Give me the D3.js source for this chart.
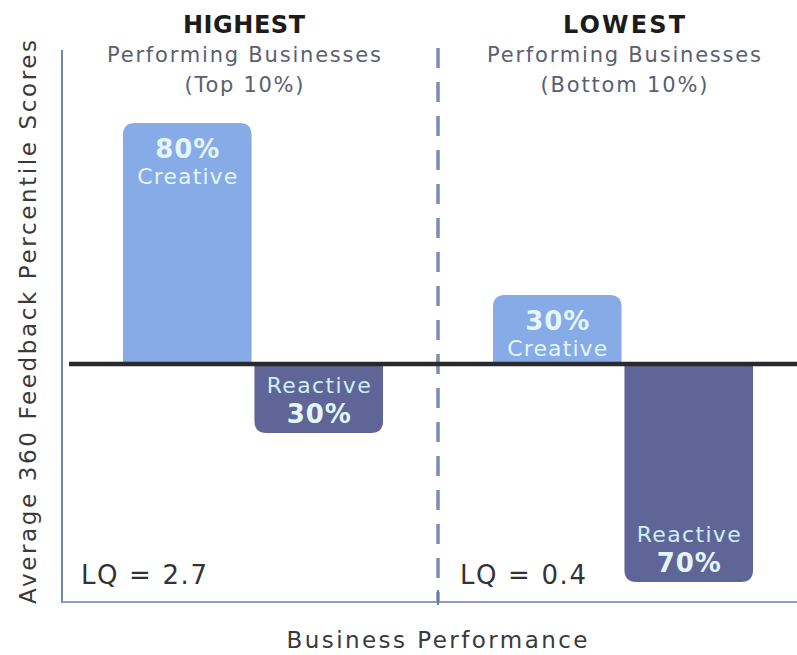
<!DOCTYPE html>
<html><head><meta charset="utf-8">
<script src="https://cdn.jsdelivr.net/npm/d3@7"></script>
<style>
body{margin:0;background:#fff;}
svg{display:block;}
text{font-family:"DejaVu Sans",Lato,sans-serif;}
</style></head>
<body>
<svg id="c" width="797" height="655"></svg>
<script>
const groups = ["HIGHEST", "LOWEST"];
const groupSub = ["Performing Businesses", "Performing Businesses"];
const groupRange = ["(Top 10%)", "(Bottom 10%)"];
const series = ["Creative", "Reactive"];
const creativeValues = [80, 30];
const reactiveValues = [30, 70];
const lqValues = ["LQ = 2.7", "LQ = 0.4"];
const xTitle = "Business Performance";
const yTitle = "Average 360 Feedback Percentile Scores";

const svg = d3.select("#c");
const W = 797, H = 655;
const baseY = 364, axisX = 62, axisBottom = 602, axisTop = 50;

const x = d3.scaleBand().domain(groups).range([68, 808]);
const inner = d3.scaleBand().domain(series).range([55, 315]).paddingInner(0.022);
// signed value: creative above the baseline, reactive below
const y = d3.scaleLinear().domain([-70, -30, 0, 30, 80]).range([582, 433, baseY, 295, 123]);

const colors = {Creative: "#86abe6", Reactive: "#5f6596"};

function fit(sel, len) {
  return sel.attr("textLength", len).attr("lengthAdjust", "spacing");
}

// axes
svg.append("line").attr("x1", axisX).attr("x2", axisX).attr("y1", axisTop).attr("y2", axisBottom + 1)
  .attr("stroke", "#7386ae").attr("stroke-width", 2);
svg.append("line").attr("x1", axisX).attr("x2", W).attr("y1", axisBottom).attr("y2", axisBottom)
  .attr("stroke", "#909fbe").attr("stroke-width", 2);

// divider
const divX = x("LOWEST");
svg.append("line").attr("x1", divX).attr("x2", divX).attr("y1", 48).attr("y2", axisBottom)
  .attr("stroke", "#7a8db9").attr("stroke-width", 3.5).attr("stroke-dasharray", "20,14");
svg.append("line").attr("x1", divX).attr("x2", divX).attr("y1", axisBottom - 12).attr("y2", axisBottom + 3)
  .attr("stroke", "#6b7ca4").attr("stroke-width", 2);

const bars = [];
groups.forEach((g, i) => {
  bars.push({g, s: "Creative", v: creativeValues[i]});
  bars.push({g, s: "Reactive", v: -reactiveValues[i]});
});

function barPath(x0, w, y0, y1, r) {
  const dir = y1 < y0 ? 1 : -1;
  const p = d3.path();
  p.moveTo(x0, y0);
  p.lineTo(x0, y1 + dir * r);
  p.quadraticCurveTo(x0, y1, x0 + r, y1);
  p.lineTo(x0 + w - r, y1);
  p.quadraticCurveTo(x0 + w, y1, x0 + w, y1 + dir * r);
  p.lineTo(x0 + w, y0);
  p.closePath();
  return p.toString();
}

svg.selectAll("path.bar").data(bars).join("path")
  .attr("class", "bar")
  .attr("fill", d => colors[d.s])
  .attr("d", d => barPath(x(d.g) + inner(d.s), inner.bandwidth(), y(0), y(d.v), 12));

// baseline
svg.append("line").attr("x1", 69).attr("x2", W).attr("y1", baseY).attr("y2", baseY)
  .attr("stroke", "#2a2a2e").attr("stroke-width", 4.5);

// bar labels
const lab = svg.append("g").attr("text-anchor", "middle").attr("fill", "#e3f6fb");
bars.forEach(d => {
  const cx = x(d.g) + inner(d.s) + inner.bandwidth() / 2;
  const pct = Math.abs(d.v) + "%";
  if (d.v > 0) {
    fit(lab.append("text").attr("x", cx).attr("y", y(d.v) + 35).attr("font-size", 26).attr("font-weight", 700).text(pct), 64);
    fit(lab.append("text").attr("x", cx).attr("y", y(d.v) + 61).attr("font-size", 22).text(d.s), 100);
  } else {
    fit(lab.append("text").attr("x", cx).attr("y", y(d.v) - 40).attr("font-size", 22).attr("fill", "#cdeff6").text(d.s), 104);
    fit(lab.append("text").attr("x", cx).attr("y", y(d.v) - 10).attr("font-size", 26).attr("font-weight", 700).text(pct), 64);
  }
});

// group titles
const titleShift = [-9, 1];
const rangeLen = [119, 167];
groups.forEach((g, i) => {
  const cx = x(g) + x.bandwidth() / 2 + titleShift[i];
  fit(svg.append("text").attr("x", cx).attr("y", 33).attr("text-anchor", "middle")
    .attr("font-size", 24).attr("font-weight", 700).attr("fill", "#1c1c1c").text(g), 122);
  fit(svg.append("text").attr("x", cx).attr("y", 62).attr("text-anchor", "middle")
    .attr("font-size", 21).attr("fill", "#5a6070").text(groupSub[i]), 274);
  fit(svg.append("text").attr("x", cx).attr("y", 92).attr("text-anchor", "middle")
    .attr("font-size", 21).attr("fill", "#5a6070").text(groupRange[i]), rangeLen[i]);
  fit(svg.append("text").attr("x", x(g) + (i === 0 ? 13 : 22)).attr("y", 584)
    .attr("font-size", 26).attr("fill", "#333").text(lqValues[i]), 126);
});

// axis titles
fit(svg.append("text").attr("x", 437).attr("y", 648).attr("text-anchor", "middle")
  .attr("font-size", 23).attr("fill", "#3a3a3a").text(xTitle), 301);
fit(svg.append("text").attr("transform", "translate(36,322) rotate(-90)").attr("text-anchor", "middle")
  .attr("font-size", 23).attr("fill", "#3a3a3a").text(yTitle), 564);
</script>
</body></html>
